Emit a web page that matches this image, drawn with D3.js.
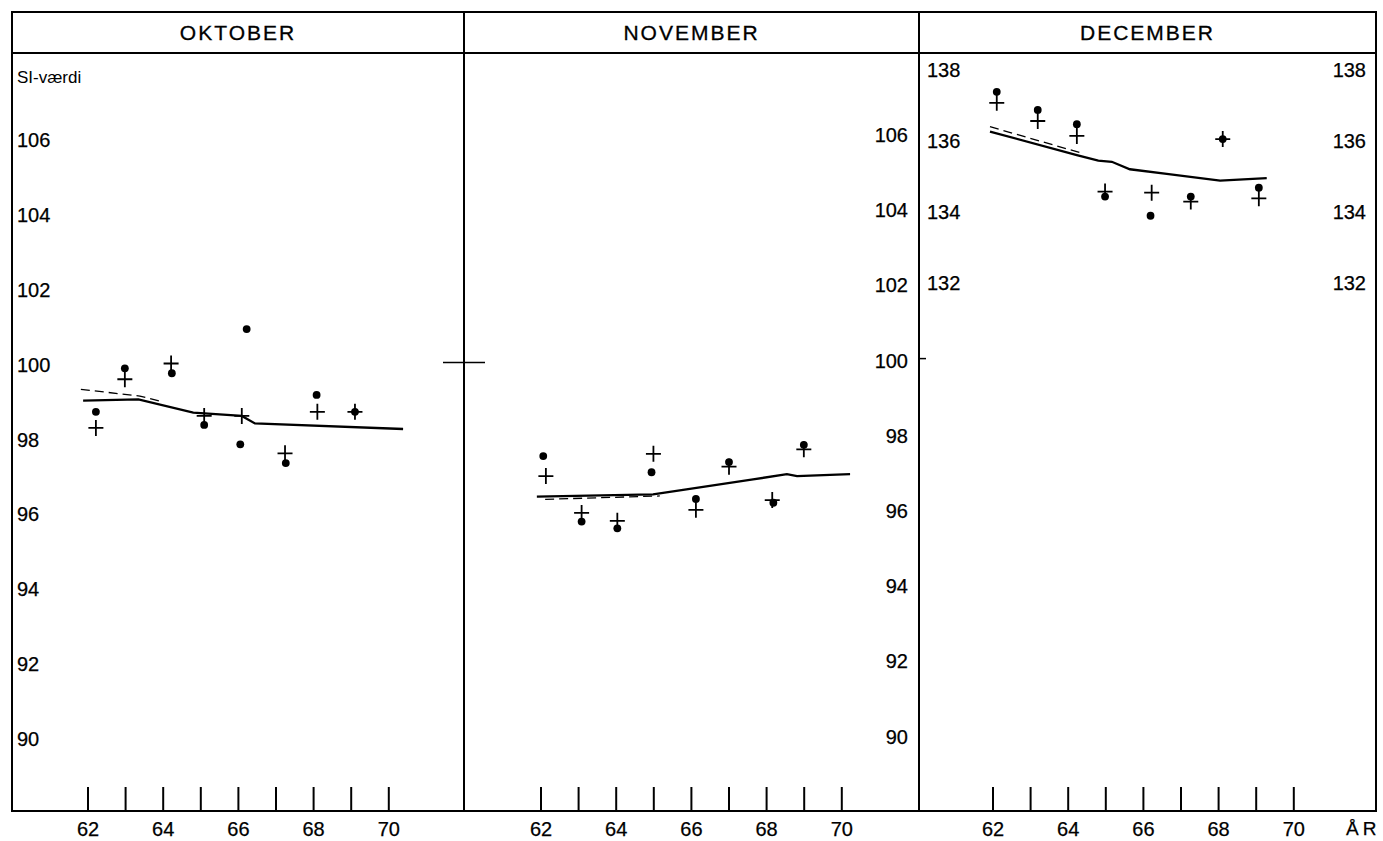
<!DOCTYPE html>
<html lang="da">
<head>
    <meta charset="UTF-8">
    <script src="https://cdn.jsdelivr.net/npm/d3@7"></script>
    <title>SI-værdi oktober - december</title>
    <style>
        html,
        body {
            margin: 0px;
            padding: 0px;
            background-color: #fff;
        }
        svg {
            display: block;
            font-family: "Liberation Sans", Arial, sans-serif;
        }
    </style>
</head>
<body>
    <div id="chart"></div>
    <script>

        // ---- data ----
        const months = ['OKTOBER', 'NOVEMBER', 'DECEMBER'];
        const years = [62, 63, 64, 65, 66, 67, 68, 69, 70];
        const yearLabels = [62, 64, 66, 68, 70];
        const siTicks = [106, 104, 102, 100, 98, 96, 94, 92, 90];
        const decTicks = [138, 136, 134, 132];

        // [year, SI value]
        const oktDots = [[62.21, 98.74], [62.98, 99.90], [64.23, 99.77], [65.09, 98.39], [66.05, 97.87],
                         [66.22, 100.95], [67.26, 97.37], [68.08, 99.19], [69.10, 98.74]];
        const oktCrosses = [[62.21, 98.31], [62.98, 99.61], [64.21, 100.03], [65.09, 98.63], [66.09, 98.63],
                            [67.24, 97.63], [68.10, 98.74], [69.10, 98.74]];
        const oktSolid = [[61.87, 99.04], [63.34, 99.07], [64.80, 98.72], [66.09, 98.63], [66.44, 98.43], [70.38, 98.28]];
        const oktDashed = [[61.81, 99.34], [63.38, 99.16], [63.96, 99.01]];

        const novDots = [[62.06, 97.46], [63.08, 95.72], [64.03, 95.54], [64.94, 97.03], [66.12, 96.32],
                         [67.00, 97.30], [68.18, 96.22], [68.99, 97.76]];
        const novCrosses = [[62.13, 96.93], [63.08, 95.95], [64.03, 95.74], [64.99, 97.52], [66.12, 96.03],
                            [67.00, 97.18], [68.15, 96.29], [68.99, 97.64]];
        const novSolid = [[61.89, 96.38], [64.98, 96.44], [65.78, 96.56], [67.64, 96.84], [68.54, 96.98],
                          [68.81, 96.93], [70.22, 96.98]];
        const novDashed = [[62.11, 96.31], [65.16, 96.40]];

        const decDots = [[62.10, 137.37], [63.19, 136.86], [64.23, 136.46], [64.98, 134.42], [66.19, 133.88],
                         [67.26, 134.42], [68.11, 136.04], [69.07, 134.67]];
        const decCrosses = [[62.10, 137.06], [63.19, 136.55], [64.23, 136.13], [64.98, 134.56], [66.22, 134.53],
                            [67.26, 134.28], [68.11, 136.04], [69.07, 134.37]];
        const decSolid = [[61.92, 136.25], [64.23, 135.59], [64.80, 135.43], [65.16, 135.40], [65.64, 135.19],
                          [66.62, 135.06], [68.04, 134.87], [69.28, 134.94]];
        const decDashed = [[61.92, 136.39], [64.31, 135.66]];

        // ---- layout ----
        const width = 1383, height = 841;
        const frame = {left: 12, top: 12, right: 1376, bottom: 811, head: 53};
        const panelLeft = [12, 464, 919];
        const panelRight = [464, 919, 1376];
        const firstTick = [88, 541, 993];
        const yearStep = 37.6;

        let yOkt = d3.scaleLinear().domain([90, 106]).range([739, 140]);
        let yNov = d3.scaleLinear().domain([90, 106]).range([736.6, 135]);
        let yDec = d3.scaleLinear().domain([132, 138]).range([282.5, 69.5]);

        let panels = [
            {dots: oktDots, crosses: oktCrosses, solid: oktSolid, dashed: oktDashed, y: yOkt},
            {dots: novDots, crosses: novCrosses, solid: novSolid, dashed: novDashed, y: yNov},
            {dots: decDots, crosses: decCrosses, solid: decSolid, dashed: decDashed, y: yDec}
        ];

        let svg = d3.select('#chart').append('svg')
            .attr('width', width)
            .attr('height', height);

        // frame and header
        let fr = svg.append('g')
            .attr('stroke', '#000')
            .attr('stroke-width', 2)
            .attr('fill', 'none');
        fr.append('rect')
            .attr('x', frame.left).attr('y', frame.top)
            .attr('width', frame.right - frame.left)
            .attr('height', frame.bottom - frame.top);
        fr.append('line')
            .attr('x1', frame.left).attr('x2', frame.right)
            .attr('y1', frame.head).attr('y2', frame.head);
        fr.selectAll('line.div')
            .data(panelLeft.slice(1))
            .join('line')
            .attr('class', 'div')
            .attr('x1', d => d).attr('x2', d => d)
            .attr('y1', frame.top).attr('y2', frame.bottom);

        svg.selectAll('text.month')
            .data(months)
            .join('text')
            .attr('class', 'month')
            .attr('x', (d, i) => (panelLeft[i] + panelRight[i]) / 2)
            .attr('y', 33)
            .attr('dy', '0.35em')
            .attr('text-anchor', 'middle')
            .attr('font-size', 21)
            .attr('letter-spacing', 2)
            .attr('stroke', '#000')
            .attr('stroke-width', 0.3)
            .text(d => d);

        // y labels
        svg.append('text')
            .attr('x', 17).attr('y', 77).attr('dy', '0.35em')
            .attr('font-size', 17)
            .text('SI-værdi');

        let labels = svg.append('g')
            .attr('font-size', 20)
            .attr('stroke', '#000')
            .attr('stroke-width', 0.25);

        labels.selectAll('text.yokt')
            .data(siTicks)
            .join('text')
            .attr('class', 'yokt')
            .attr('x', 17)
            .attr('y', d => yOkt(d))
            .attr('dy', '0.35em')
            .text(d => d);

        labels.selectAll('text.ynov')
            .data(siTicks)
            .join('text')
            .attr('class', 'ynov')
            .attr('x', 908)
            .attr('y', d => yNov(d))
            .attr('dy', '0.35em')
            .attr('text-anchor', 'end')
            .text(d => d);

        labels.selectAll('text.ydecl')
            .data(decTicks)
            .join('text')
            .attr('class', 'ydecl')
            .attr('x', 927)
            .attr('y', d => yDec(d))
            .attr('dy', '0.35em')
            .text(d => d);

        labels.selectAll('text.ydecr')
            .data(decTicks)
            .join('text')
            .attr('class', 'ydecr')
            .attr('x', 1366)
            .attr('y', d => yDec(d))
            .attr('dy', '0.35em')
            .attr('text-anchor', 'end')
            .text(d => d);

        // the 100 marks on the dividers
        fr.append('line')
            .attr('x1', 443).attr('x2', 485)
            .attr('y1', (yOkt(100) + yNov(100)) / 2).attr('y2', (yOkt(100) + yNov(100)) / 2)
            .attr('stroke-width', 1.5);
        fr.append('line')
            .attr('x1', 919).attr('x2', 926)
            .attr('y1', yNov(100) - 2).attr('y2', yNov(100) - 2)
            .attr('stroke-width', 1.5);

        // year axis, lines and marks per month
        panels.forEach((p, i) => {
            let x = d3.scaleLinear()
                .domain([62, 70])
                .range([firstTick[i], firstTick[i] + 8 * yearStep]);
            let g = svg.append('g');

            g.selectAll('line.tick')
                .data(years)
                .join('line')
                .attr('class', 'tick')
                .attr('x1', d => x(d)).attr('x2', d => x(d))
                .attr('y1', 787).attr('y2', frame.bottom)
                .attr('stroke', '#000')
                .attr('stroke-width', 2);

            g.selectAll('text.year')
                .data(yearLabels)
                .join('text')
                .attr('class', 'year')
                .attr('x', d => x(d))
                .attr('y', 829)
                .attr('dy', '0.35em')
                .attr('text-anchor', 'middle')
                .attr('font-size', 20)
                .attr('stroke', '#000')
                .attr('stroke-width', 0.25)
                .text(d => d);

            let line = d3.line()
                .x(d => x(d[0]))
                .y(d => p.y(d[1]));

            g.append('path')
                .attr('d', line(p.dashed))
                .attr('fill', 'none')
                .attr('stroke', '#000')
                .attr('stroke-width', 1.3)
                .attr('stroke-dasharray', '9,5');

            g.append('path')
                .attr('d', line(p.solid))
                .attr('fill', 'none')
                .attr('stroke', '#000')
                .attr('stroke-width', 2.3);

            g.selectAll('path.cross')
                .data(p.crosses)
                .join('path')
                .attr('class', 'cross')
                .attr('d', d => {
                    let cx = x(d[0]), cy = p.y(d[1]);
                    return `M${cx - 7.5},${cy}H${cx + 7.5}M${cx},${cy - 8}V${cy + 8}`;
                })
                .attr('stroke', '#000')
                .attr('stroke-width', 1.8);

            g.selectAll('circle.dot')
                .data(p.dots)
                .join('circle')
                .attr('class', 'dot')
                .attr('cx', d => x(d[0]))
                .attr('cy', d => p.y(d[1]))
                .attr('r', 3.9)
                .attr('fill', '#000');
        });

        svg.append('text')
            .attr('x', 1346).attr('y', 828).attr('dy', '0.35em')
            .attr('font-size', 19)
            .attr('letter-spacing', 4)
            .attr('stroke', '#000')
            .attr('stroke-width', 0.25)
            .text('ÅR');

    </script>
</body>
</html>
